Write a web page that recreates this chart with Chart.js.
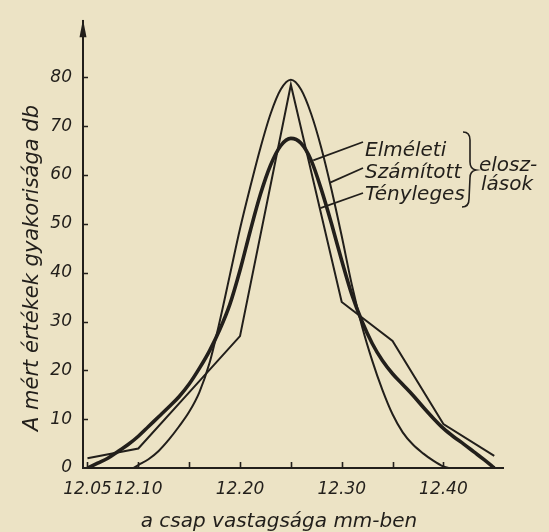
<!DOCTYPE html>
<html lang="hu">
<head>
<meta charset="utf-8">
<title>Elméleti, számított és tényleges eloszlások</title>
<script src="https://cdn.jsdelivr.net/npm/chart.js@4.4.1/dist/chart.umd.min.js"></script>
<style>
    html, body { margin: 0; padding: 0; background: #ece3c5; }
    canvas { display: block; }
</style>
</head>
<body>
<canvas id="distChart" width="549" height="532"></canvas>
<script>
/* ============================================
   ELOSZLÁSOK - csapvastagság
   ============================================ */

// Elméleti eloszlás (vastag görbe)
const elmX = [12.05, 12.06, 12.07, 12.08, 12.09, 12.10, 12.11, 12.12, 12.13, 12.14,
              12.15, 12.16, 12.17, 12.18, 12.19, 12.20, 12.21, 12.22, 12.23, 12.24,
              12.25, 12.26, 12.27, 12.28, 12.29, 12.30, 12.31, 12.32, 12.33, 12.34,
              12.35, 12.36, 12.37, 12.38, 12.39, 12.40, 12.41, 12.42, 12.43, 12.44, 12.45];
const elmY = [0, 1, 2, 3.4, 4.8, 6.5, 8.5, 10.5, 12.5, 14.6,
              17.2, 20.4, 24, 28.3, 33.5, 40.5, 48.5, 56, 62, 66,
              67.5, 66.5, 63, 57, 50, 42.5, 35.5, 30, 25.5, 22,
              19.3, 17.1, 14.9, 12.5, 10.2, 8.1, 6.4, 4.9, 3.3, 1.7, 0];

// Számított eloszlás (magas, vékony görbe)
const szamX = [12.095, 12.10, 12.11, 12.12, 12.13, 12.14, 12.15, 12.16, 12.17, 12.18,
               12.19, 12.20, 12.21, 12.22, 12.23, 12.24, 12.25, 12.26, 12.27, 12.28,
               12.29, 12.30, 12.31, 12.32, 12.33, 12.34, 12.35, 12.36, 12.37, 12.38,
               12.39, 12.40, 12.405];
const szamY = [0, 0.6, 1.8, 3.5, 5.8, 8.5, 11.5, 15.5, 21.5, 30,
               39.5, 49, 57.5, 65.5, 72.5, 77.5, 79.5, 77.5, 72.5, 65.5,
               57, 47.5, 37.5, 29, 22, 16, 11, 7.3, 4.8, 3,
               1.5, 0.3, 0];

// Tényleges eloszlás (gyakorisági poligon)
const tenyX = [12.05, 12.10, 12.15, 12.20, 12.25, 12.30, 12.35, 12.40, 12.45];
const tenyY = [2, 4, 15.5, 27, 78.5, 34, 26, 9, 2.5];

const xTicks = [12.05, 12.10, 12.15, 12.20, 12.25, 12.30, 12.35, 12.40];
const xTickLabels = ['12.05', '12.10', '', '12.20', '', '12.30', '', '12.40'];
const yTicks = [0, 10, 20, 30, 40, 50, 60, 70, 80];

const seriesNames = ['Elméleti', 'Számított', 'Tényleges'];
// where each label's leader line touches its curve (x mm, y db)
const leaderAt = [[12.272, 63], [12.288, 58.4], [12.279, 53.2]];
const groupLabel = ['elosz-', 'lások'];
const xTitle = 'a csap vastagsága mm-ben';
const yTitle = 'A mért értékek gyakorisága db';

const ink = '#221f1b';
const paper = '#ece3c5';
const fontFamily = '"DejaVu Sans", "Liberation Sans", sans-serif';

function toPoints(xs, ys) {
    return xs.map(function(x, i) { return { x: x, y: ys[i] }; });
}

const extrasPlugin = {
    id: 'extras',
    beforeDraw: function(chart) {
        const ctx = chart.ctx;
        ctx.save();
        ctx.fillStyle = paper;
        ctx.fillRect(0, 0, chart.width, chart.height);
        ctx.restore();
    },
    afterDraw: function(chart) {
        const ctx = chart.ctx;
        const area = chart.chartArea;
        const x = chart.scales.x;
        const y = chart.scales.y;

        ctx.save();
        ctx.strokeStyle = ink;
        ctx.fillStyle = ink;
        ctx.lineWidth = 1.6;

        // inward tick marks
        ctx.beginPath();
        yTicks.forEach(function(v) {
            if (v === 0) return;
            const py = Math.round(y.getPixelForValue(v)) + 0.5;
            ctx.moveTo(area.left, py);
            ctx.lineTo(area.left + 5, py);
        });
        xTicks.forEach(function(v) {
            const px = Math.round(x.getPixelForValue(v)) + 0.5;
            ctx.moveTo(px, area.bottom);
            ctx.lineTo(px, area.bottom - 6);
        });
        ctx.stroke();

        // arrow head on the y axis
        ctx.beginPath();
        ctx.moveTo(area.left, area.top - 2);
        ctx.lineTo(area.left - 3.5, area.top + 16);
        ctx.lineTo(area.left + 3.5, area.top + 16);
        ctx.closePath();
        ctx.fill();

        // axis titles
        ctx.font = 'italic 20px ' + fontFamily;
        ctx.textBaseline = 'alphabetic';
        ctx.textAlign = 'center';
        ctx.fillText(xTitle, 279, 527);

        ctx.save();
        ctx.translate(38, 268);
        ctx.rotate(-Math.PI / 2);
        ctx.font = 'italic 21px ' + fontFamily;
        ctx.fillText(yTitle, 0, 0);
        ctx.restore();

        // leader lines + series names
        const endX = area.left + 280;
        const endY = [142, 168, 193];
        const textY = [156, 178, 200];
        ctx.lineWidth = 1.8;
        ctx.textAlign = 'left';
        seriesNames.forEach(function(name, i) {
            const sx = x.getPixelForValue(leaderAt[i][0]);
            const sy = y.getPixelForValue(leaderAt[i][1]);
            ctx.beginPath();
            ctx.moveTo(sx, sy);
            ctx.lineTo(endX, endY[i]);
            ctx.stroke();
            ctx.fillText(name, endX + 2, textY[i]);
        });

        // brace
        const bx = 467;
        ctx.lineWidth = 1.6;
        ctx.beginPath();
        ctx.moveTo(bx - 4, 132);
        ctx.quadraticCurveTo(bx + 3, 132, bx + 3, 140);
        ctx.lineTo(bx + 3, 162);
        ctx.quadraticCurveTo(bx + 3, 169, bx + 9, 170);
        ctx.quadraticCurveTo(bx + 3, 171, bx + 3, 178);
        ctx.lineTo(bx + 2, 199);
        ctx.quadraticCurveTo(bx + 2, 207, bx - 5, 207);
        ctx.stroke();

        ctx.fillText(groupLabel[0], 479, 171);
        ctx.fillText(groupLabel[1], 481, 190);

        ctx.restore();
    }
};

document.addEventListener('DOMContentLoaded', function() {
    const canvas = document.getElementById('distChart');
    const ctx = canvas.getContext('2d');

    const tickFont = { family: fontFamily, size: 17, style: 'italic' };

    new Chart(ctx, {
        type: 'line',
        data: {
            datasets: [{
                label: seriesNames[0],
                data: toPoints(elmX, elmY),
                borderColor: ink,
                borderWidth: 3.6,
                pointRadius: 0,
                cubicInterpolationMode: 'monotone',
                fill: false
            }, {
                label: seriesNames[1],
                data: toPoints(szamX, szamY),
                borderColor: ink,
                borderWidth: 2,
                pointRadius: 0,
                cubicInterpolationMode: 'monotone',
                fill: false
            }, {
                label: seriesNames[2],
                data: toPoints(tenyX, tenyY),
                borderColor: ink,
                borderWidth: 2,
                pointRadius: 0,
                tension: 0,
                borderJoinStyle: 'miter',
                fill: false
            }]
        },
        options: {
            responsive: false,
            animation: false,
            layout: {
                padding: { top: 8, right: 46, left: 0, bottom: 0 }
            },
            plugins: {
                legend: { display: false },
                tooltip: { enabled: false }
            },
            scales: {
                x: {
                    type: 'linear',
                    min: 12.0456,
                    max: 12.4586,
                    afterBuildTicks: function(scale) {
                        scale.ticks = xTicks.map(function(v) { return { value: v }; });
                    },
                    afterFit: function(scale) {
                        scale.height = 64;
                    },
                    grid: {
                        drawOnChartArea: false,
                        drawTicks: false
                    },
                    border: { display: true, color: ink, width: 2 },
                    ticks: {
                        autoSkip: false,
                        maxRotation: 0,
                        padding: 11,
                        color: ink,
                        font: tickFont,
                        callback: function(value, index) {
                            return xTickLabels[index];
                        }
                    }
                },
                y: {
                    type: 'linear',
                    min: 0,
                    max: 91.5,
                    afterBuildTicks: function(scale) {
                        scale.ticks = yTicks.map(function(v) { return { value: v }; });
                    },
                    afterFit: function(scale) {
                        scale.width = 83;
                    },
                    grid: {
                        drawOnChartArea: false,
                        drawTicks: false
                    },
                    border: { display: true, color: ink, width: 2 },
                    ticks: {
                        padding: 11,
                        color: ink,
                        font: tickFont
                    }
                }
            }
        },
        plugins: [extrasPlugin]
    });
});
</script>
</body>
</html>
